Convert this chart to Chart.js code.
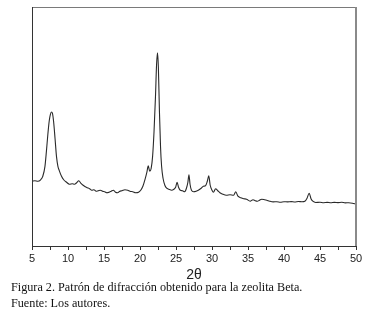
<!DOCTYPE html>
<html>
<head>
<meta charset="utf-8">
<script src="https://cdn.jsdelivr.net/npm/chart.js@4.4.0/dist/chart.umd.min.js"></script>
<style>
  html, body { margin: 0; padding: 0; background: #fff; }
  body { width: 376px; height: 315px; position: relative; overflow: hidden; }
  .chart-box { position: absolute; left: 0; top: 0; width: 376px; height: 284px; }
  .caption { position: absolute; left: 11px; font-family: "Liberation Serif", "Times New Roman", serif;
             font-size: 12.2px; color: #111; white-space: nowrap; line-height: 16px; }
</style>
</head>
<body>
<div class="chart-box"><canvas id="xrdChart"></canvas></div>
<div class="caption" style="top: 279px;">Figura 2. Patrón de difracción obtenido para la zeolita Beta.</div>
<div class="caption" style="top: 295px;">Fuente: Los autores.</div>

<script>
// 2-theta positions (degrees)
const twoTheta = [
  5.0, 5.4, 5.8, 6.2, 6.5, 6.8, 7.0, 7.2, 7.4, 7.55, 7.7, 7.85, 8.0, 8.2, 8.4, 8.6, 8.8, 9.1, 9.4, 9.8,
  10.2, 10.6, 10.9, 11.2, 11.5, 11.8, 12.1, 12.4, 12.7, 13.0, 13.3, 13.6, 13.9, 14.2, 14.5, 14.8, 15.1, 15.4, 15.7, 16.0,
  16.3, 16.6, 16.9, 17.2, 17.5, 17.9, 18.3, 18.6, 19.0, 19.4, 19.8, 20.1, 20.4, 20.7, 20.95, 21.15, 21.35, 21.55, 21.75, 21.95,
  22.15, 22.3, 22.43, 22.55, 22.7, 22.85, 23.0, 23.2, 23.45, 23.7, 24.0, 24.4, 24.7, 24.95, 25.15, 25.35, 25.6, 25.9, 26.2, 26.45,
  26.65, 26.8, 26.95, 27.15, 27.45, 27.8, 28.1, 28.5, 28.8, 29.1, 29.35, 29.55, 29.75, 30.0, 30.2, 30.5, 30.8, 31.1, 31.5, 32.0,
  32.5, 33.0, 33.3, 33.6, 34.0, 34.4, 34.8, 35.3, 35.7, 36.0, 36.3, 36.6, 36.9, 37.3, 37.6, 38.0, 38.5, 39.0, 39.5, 40.0,
  40.5, 41.0, 41.5, 42.0, 42.5, 42.9, 43.2, 43.5, 43.75, 44.0, 44.4, 45.0, 45.5, 46.0, 46.5, 47.0, 47.5, 48.0, 48.5, 49.0,
  49.5, 50.0
];

// intensity (arbitrary units)
const intensity = [
  65, 65.5, 65, 66.5, 70, 80, 95, 112, 126, 132, 134.5, 133, 125, 108, 90, 80, 75.5, 70, 66.5, 64,
  62, 62.5, 62, 63.5, 65.5, 63, 61, 59.5, 58.5, 57.5, 56, 56.5, 55, 55.5, 56, 55, 54.5, 53.5, 54, 55,
  56, 54, 53.5, 55, 55.5, 56.5, 56, 55, 54.5, 53.5, 54, 56, 60, 67, 74, 80.5, 75, 78, 90, 115,
  150, 182, 194, 180, 135, 100, 80, 68, 61, 58, 57, 56, 57, 59, 64, 59, 56, 55.5, 54.5, 58,
  64, 71.5, 62, 56, 54.5, 55, 56, 58, 60, 60.5, 65, 70.5, 61, 56, 54, 57.5, 55.5, 53.5, 52, 51,
  51.5, 51, 54.5, 50, 48.5, 47.5, 47, 45, 46.5, 45.5, 45, 46, 47, 46.5, 46, 45, 44.3, 44.5, 44, 44.5,
  44.3, 44.6, 44.2, 44.7, 44.5, 45, 48, 53, 47.5, 45, 43.7, 44, 43.5, 43.8, 43.4, 43.8, 43.6, 43.9, 43.3, 43.5,
  43, 42
];

// x axis ticks: labels every 5, minor marks every 2.5
const xMin = 5;
const xMax = 50;
const xStep = 2.5;

// Draw the box around the plot area
const frameBox = {
  id: 'frameBox',
  afterDraw(chart) {
    const { ctx, chartArea: a } = chart;
    ctx.save();
    // top
    ctx.strokeStyle = '#7a7a7a';
    ctx.lineWidth = 1;
    ctx.beginPath();
    ctx.moveTo(a.left, a.top + 0.5);
    ctx.lineTo(a.right, a.top + 0.5);
    ctx.stroke();
    // right
    ctx.strokeStyle = '#8a8a8a';
    ctx.lineWidth = 2;
    ctx.beginPath();
    ctx.moveTo(a.right, a.top);
    ctx.lineTo(a.right, a.bottom);
    ctx.stroke();
    // left
    ctx.strokeStyle = '#333';
    ctx.lineWidth = 1;
    ctx.beginPath();
    ctx.moveTo(a.left + 0.5, a.top);
    ctx.lineTo(a.left + 0.5, a.bottom);
    ctx.stroke();
    ctx.restore();
  }
};

const points = twoTheta.map((t, i) => ({ x: t, y: intensity[i] }));

new Chart(document.getElementById('xrdChart'), {
  type: 'line',
  data: {
    datasets: [{
      data: points,
      borderColor: '#2a2a2a',
      borderWidth: 1.1,
      pointRadius: 0,
      cubicInterpolationMode: 'monotone',
      fill: false
    }]
  },
  options: {
    responsive: true,
    maintainAspectRatio: false,
    animation: false,
    layout: { padding: { left: 32, right: 20, top: 7, bottom: 0 } },
    plugins: { legend: { display: false }, tooltip: { enabled: false } },
    scales: {
      x: {
        type: 'linear',
        min: xMin,
        max: xMax,
        border: { display: true, color: '#333', width: 1 },
        grid: { display: true, drawOnChartArea: false, drawTicks: true, tickLength: 4, color: '#333' },
        ticks: {
          stepSize: xStep,
          autoSkip: false,
          maxRotation: 0,
          padding: 2,
          color: '#222',
          font: { family: '"Liberation Sans", Arial, sans-serif', size: 11 },
          callback: (v) => (v % 5 === 0 ? String(v) : '')
        },
        title: {
          display: true,
          text: '2θ',
          color: '#222',
          padding: { top: 0, bottom: 0 },
          font: { family: '"Liberation Sans", Arial, sans-serif', size: 14 }
        }
      },
      y: {
        display: false,
        min: 0,
        max: 240
      }
    }
  },
  plugins: [frameBox]
});
</script>
</body>
</html>
